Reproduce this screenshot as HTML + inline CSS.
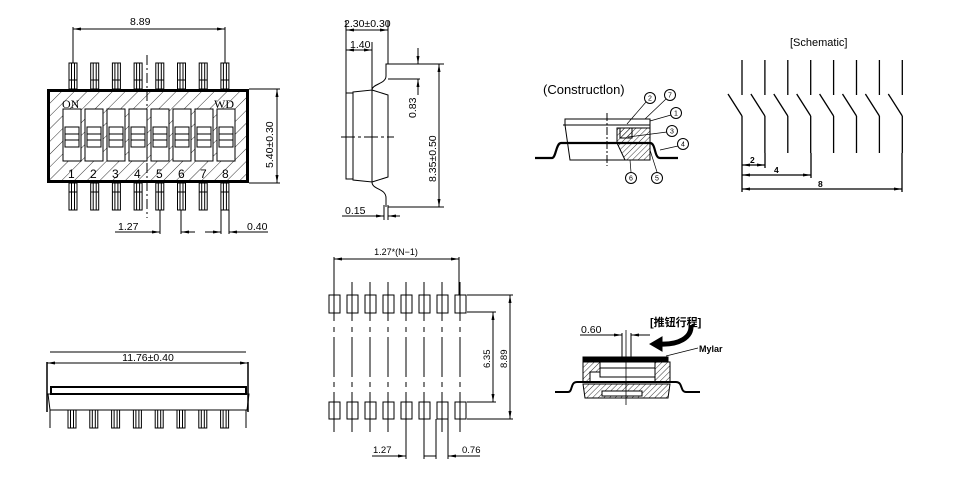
<!DOCTYPE html>
<html><head><meta charset="utf-8"><style>
html,body{margin:0;padding:0;background:#fff;}
svg{display:block;}
text{font-family:"Liberation Sans","Noto Sans CJK SC",sans-serif;fill:#000;}
</style></head><body>
<svg width="960" height="488" viewBox="0 0 960 488" xmlns="http://www.w3.org/2000/svg">
<defs>
<pattern id="h" width="9" height="9" patternUnits="userSpaceOnUse" patternTransform="rotate(45)">
<line x1="0" y1="0" x2="0" y2="9" stroke="#000" stroke-width="0.8"/></pattern>
<pattern id="h2" width="4" height="4" patternUnits="userSpaceOnUse" patternTransform="rotate(45)">
<line x1="0" y1="0" x2="0" y2="4" stroke="#000" stroke-width="0.8"/></pattern>
<marker id="a" markerWidth="8" markerHeight="6" refX="8" refY="3" orient="auto-start-reverse" markerUnits="userSpaceOnUse"><path d="M0,1.5 L8,3 L0,4.5z" fill="#000"/></marker>
</defs>
<g stroke="#000" stroke-width="1" fill="none">
<!-- ===== top-left view ===== -->
<line x1="73" y1="29" x2="225" y2="29" marker-start="url(#a)" marker-end="url(#a)"/>
<line x1="73" y1="27" x2="73" y2="63"/><line x1="225" y1="27" x2="225" y2="63"/>
<g id="pt">
<rect x="69" y="63" width="8" height="26"/><line x1="71.5" y1="63" x2="71.5" y2="89"/><line x1="74.5" y1="63" x2="74.5" y2="89"/><line x1="69" y1="80" x2="77" y2="80"/>
<rect x="69" y="183" width="8" height="27"/><line x1="71.5" y1="183" x2="71.5" y2="210"/><line x1="74.5" y1="183" x2="74.5" y2="210"/><line x1="69" y1="192" x2="77" y2="192"/>
</g>
<use href="#pt" x="21.7"/><use href="#pt" x="43.4"/><use href="#pt" x="65.1"/><use href="#pt" x="86.8"/><use href="#pt" x="108.5"/><use href="#pt" x="130.2"/><use href="#pt" x="151.9"/>
<rect x="48.5" y="90.5" width="199" height="91" fill="url(#h)" stroke-width="3"/>
<g id="w" fill="#fff">
<rect x="63" y="109" width="18" height="52"/><rect x="65" y="127" width="14" height="20"/><line x1="65" y1="134" x2="79" y2="134"/><line x1="65" y1="140" x2="79" y2="140"/>
</g>
<use href="#w" x="22"/><use href="#w" x="44"/><use href="#w" x="66"/><use href="#w" x="88"/><use href="#w" x="110"/><use href="#w" x="132"/><use href="#w" x="154"/>
<line x1="147" y1="55" x2="147" y2="218" stroke-dasharray="10,3,2,3"/>
<line x1="249" y1="89" x2="280" y2="89"/><line x1="249" y1="183" x2="280" y2="183"/>
<line x1="277" y1="89" x2="277" y2="183" marker-start="url(#a)" marker-end="url(#a)"/>
<line x1="160" y1="210" x2="160" y2="234"/><line x1="181" y1="210" x2="181" y2="234"/>
<line x1="115" y1="232" x2="160" y2="232" marker-end="url(#a)"/><line x1="181" y1="232" x2="195" y2="232" marker-start="url(#a)"/>
<line x1="221" y1="210" x2="221" y2="234"/><line x1="229" y1="210" x2="229" y2="234"/>
<line x1="205" y1="232" x2="221" y2="232" marker-end="url(#a)"/><line x1="229" y1="232" x2="268" y2="232" marker-start="url(#a)"/>

<!-- ===== side view ===== -->
<line x1="346" y1="21" x2="346" y2="93"/><line x1="388" y1="21" x2="388" y2="64"/>
<line x1="346" y1="30" x2="388" y2="30" marker-start="url(#a)" marker-end="url(#a)"/>
<line x1="372" y1="42" x2="372" y2="90"/>
<line x1="346" y1="50" x2="372" y2="50" marker-start="url(#a)" marker-end="url(#a)"/>
<rect x="346" y="93" width="7" height="86"/>
<path d="M353,92 L372,90 L372,182 L353,180z"/>
<path d="M372,90 L388,95 L388,177 L372,182"/>
<path d="M372,90 C372,84 386,84 386,76 L386,64 L420,64 M388,79 L420,79"/>
<path d="M372,182 C372,190 386,188 386,198 L386,207"/>
<line x1="384" y1="205" x2="384" y2="220"/><line x1="388" y1="205" x2="388" y2="220"/>
<line x1="388" y1="64" x2="444" y2="64"/><line x1="388" y1="207" x2="444" y2="207"/>
<line x1="418" y1="48" x2="418" y2="64" marker-end="url(#a)"/><line x1="418" y1="79" x2="418" y2="95" marker-start="url(#a)"/>
<line x1="439" y1="64" x2="439" y2="207" marker-start="url(#a)" marker-end="url(#a)"/>
<line x1="341" y1="137" x2="394" y2="137" stroke-dasharray="14,3,3,3"/>
<line x1="342" y1="216" x2="384" y2="216" marker-end="url(#a)"/><line x1="388" y1="216" x2="400" y2="216" marker-start="url(#a)"/>

<!-- ===== construction ===== -->
<path d="M535,158 L552,158 C556,158 556,143 561,143 L650,143 C656,143 654,158 660,158 L678,158" stroke-width="2.2"/>
<path d="M565,119 L650,119 L650,160 L570,160 L565,125 Z"/>
<line x1="563" y1="125" x2="650" y2="125"/>
<path d="M617,128 L650,128 L650,160 L625,160 L617,143z" fill="url(#h2)"/>
<rect x="620" y="128" width="12" height="10" fill="url(#h2)"/>
<line x1="607" y1="113" x2="607" y2="166" stroke-dasharray="8,2,2,2"/>
<g fill="#fff">
<circle cx="650" cy="98" r="5.5"/><circle cx="670" cy="95" r="5.5"/><circle cx="676" cy="113" r="5.5"/><circle cx="672" cy="131" r="5.5"/><circle cx="683" cy="144" r="5.5"/><circle cx="657" cy="178" r="5.5"/><circle cx="631" cy="178" r="5.5"/>
</g>
<path d="M646,102 L627,124 M666,99 L645,119 M671,115 L650,121 M667,132 L628,137 M678,146 L660,150 M657,172 L650,150 M631,172 L630,160" stroke-width="0.7"/>

<!-- ===== schematic ===== -->
<g stroke-width="1.3">
<g id="sw"><line x1="742" y1="60" x2="742" y2="95"/><line x1="728" y1="94" x2="742" y2="116"/><line x1="742" y1="116" x2="742" y2="153"/></g>
<use href="#sw" x="22.9"/><use href="#sw" x="45.8"/><use href="#sw" x="68.7"/><use href="#sw" x="91.6"/><use href="#sw" x="114.5"/><use href="#sw" x="137.4"/><use href="#sw" x="160.3"/>
<line x1="742" y1="153" x2="742" y2="192"/><line x1="765" y1="153" x2="765" y2="168"/><line x1="811" y1="153" x2="811" y2="178"/><line x1="902" y1="153" x2="902" y2="192"/>
<line x1="742" y1="165" x2="765" y2="165" marker-start="url(#a)" marker-end="url(#a)"/>
<line x1="742" y1="175" x2="811" y2="175" marker-start="url(#a)" marker-end="url(#a)"/>
<line x1="742" y1="189" x2="902" y2="189" marker-start="url(#a)" marker-end="url(#a)"/>
</g>

<!-- ===== bottom-left view ===== -->
<line x1="50" y1="352" x2="246" y2="352"/>
<line x1="47" y1="363" x2="248" y2="363" marker-start="url(#a)" marker-end="url(#a)"/>
<line x1="47" y1="362" x2="47" y2="412" stroke-width="1.5"/><line x1="248" y1="362" x2="248" y2="412" stroke-width="1.5"/>
<rect x="51" y="387" width="195" height="7" stroke-width="2"/>
<path d="M48,394 L249,394 L247,410 L50,410z"/>
<line x1="50" y1="410" x2="50" y2="428"/><line x1="246" y1="410" x2="246" y2="428"/>
<g id="bp"><rect x="68" y="410" width="8" height="18"/><line x1="70.5" y1="410" x2="70.5" y2="428"/><line x1="73.5" y1="410" x2="73.5" y2="428"/></g>
<use href="#bp" x="21.8"/><use href="#bp" x="43.6"/><use href="#bp" x="65.4"/><use href="#bp" x="87.2"/><use href="#bp" x="109"/><use href="#bp" x="130.8"/><use href="#bp" x="152.6"/>

<!-- ===== footprint ===== -->
<line x1="334" y1="259" x2="459" y2="259" marker-start="url(#a)" marker-end="url(#a)"/>
<line x1="334" y1="257" x2="334" y2="295"/><line x1="459" y1="257" x2="459" y2="295"/>
<g id="fp">
<rect x="329" y="295" width="11" height="18"/><rect x="329" y="402" width="11" height="17"/>
<line x1="334" y1="282" x2="334" y2="321"/><line x1="334" y1="327" x2="334" y2="332"/><line x1="334" y1="337" x2="334" y2="377"/><line x1="334" y1="382" x2="334" y2="387"/><line x1="334" y1="392" x2="334" y2="432"/>
</g>
<use href="#fp" x="18"/><use href="#fp" x="36"/><use href="#fp" x="54"/><use href="#fp" x="72"/><use href="#fp" x="90"/><use href="#fp" x="108"/><use href="#fp" x="126"/>
<line x1="467" y1="295" x2="513" y2="295"/><line x1="467" y1="419" x2="513" y2="419"/>
<line x1="510" y1="295" x2="510" y2="419" marker-start="url(#a)" marker-end="url(#a)"/>
<line x1="467" y1="312" x2="496" y2="312"/><line x1="467" y1="402" x2="496" y2="402"/>
<line x1="493" y1="312" x2="493" y2="402" marker-start="url(#a)" marker-end="url(#a)"/>
<line x1="406" y1="419" x2="406" y2="459"/><line x1="424" y1="419" x2="424" y2="459"/><line x1="436" y1="419" x2="436" y2="459"/><line x1="448" y1="419" x2="448" y2="459"/>
<line x1="372" y1="456" x2="406" y2="456" marker-end="url(#a)"/><line x1="424" y1="456" x2="436" y2="456"/><line x1="448" y1="456" x2="480" y2="456" marker-start="url(#a)"/>

<!-- ===== pushbutton section ===== -->
<line x1="580" y1="335" x2="622" y2="335" marker-end="url(#a)"/><line x1="631" y1="335" x2="650" y2="335" marker-start="url(#a)"/>
<line x1="622" y1="333" x2="622" y2="362"/><line x1="631" y1="333" x2="631" y2="362"/>
<path d="M583,357 L668,357 L668,362 L583,362z" fill="#000"/>
<path d="M583,362 L600,362 L600,372 L590,372 L590,382 L583,382z M655,362 L670,362 L670,382 L655,382z" fill="url(#h2)"/>
<rect x="600" y="368" width="55" height="9" fill="#fff"/>
<path d="M555,392 L568,392 C573,392 570,382 577,382 L676,382 C683,382 680,392 686,392 L700,392" stroke-width="2"/>
<path d="M583,384 L670,384 L668,398 L585,398z" fill="url(#h2)"/>
<rect x="602" y="391" width="40" height="5" fill="#fff"/>
<line x1="626" y1="330" x2="626" y2="405" stroke-width="0.8"/>
<path d="M691,325 C692,338 678,345 660,344" stroke-width="5"/>
<path d="M650,344 L662,337 L662,351z" fill="#000"/>
<line x1="666" y1="356" x2="698" y2="348" stroke-width="0.7"/>
</g>

<!-- ===== text ===== -->
<g font-size="10.5">
<text x="130" y="25">8.89</text>
<text x="62" y="108" style="font-family:'Liberation Serif',serif;font-size:12px">ON</text>
<text x="214" y="108" style="font-family:'Liberation Serif',serif;font-size:12px">WD</text>
<g style="font-family:'Liberation Serif',serif;font-size:12px">
<text x="68" y="178">1</text><text x="90" y="178">2</text><text x="112" y="178">3</text><text x="134" y="178">4</text><text x="156" y="178">5</text><text x="178" y="178">6</text><text x="200" y="178">7</text><text x="222" y="178">8</text>
</g>
<text transform="translate(273,168) rotate(-90)">5.40±0.30</text>
<text x="118" y="230">1.27</text>
<text x="247" y="230">0.40</text>
<text x="344" y="27">2.30±0.30</text>
<text x="350" y="48">1.40</text>
<text transform="translate(416,118) rotate(-90)">0.83</text>
<text transform="translate(436,182) rotate(-90)">8.35±0.50</text>
<text x="345" y="214">0.15</text>
<text x="543" y="94" font-size="13">(Constructlon)</text>
<text x="790" y="46" font-size="11">[Schematic]</text>
<g font-size="8.5" font-weight="bold"><text x="750" y="163">2</text><text x="774" y="173">4</text><text x="818" y="187">8</text></g>
<g font-size="7" text-anchor="middle"><text x="650" y="100.5">2</text><text x="670" y="97.5">7</text><text x="676" y="115.5">1</text><text x="672" y="133.5">3</text><text x="683" y="146.5">4</text><text x="657" y="180.5">5</text><text x="631" y="180.5">6</text></g>
<text x="148" y="361" text-anchor="middle">11.76±0.40</text>
<text x="396" y="255" text-anchor="middle" font-size="9">1.27*(N−1)</text>
<text transform="translate(490,368) rotate(-90)" font-size="9.5">6.35</text>
<text transform="translate(507,368) rotate(-90)" font-size="9.5">8.89</text>
<text x="373" y="453" font-size="9.5">1.27</text>
<text x="462" y="453" font-size="9.5">0.76</text>
<text x="581" y="333">0.60</text>
<text x="650" y="326" font-weight="bold" font-size="11">[推钮行程]</text>
<text x="699" y="352" font-size="9" font-weight="bold">Mylar</text>
</g>
</svg>
</body></html>
